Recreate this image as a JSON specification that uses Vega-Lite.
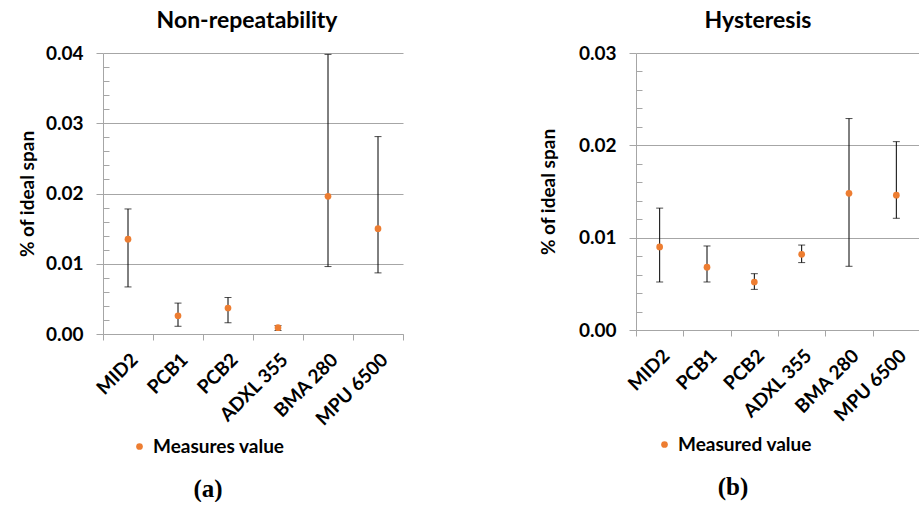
{
  "$schema": "https://vega.github.io/schema/vega-lite/v6.json",
  "padding": {"left": 18, "top": 10, "right": 0, "bottom": 0},
  "spacing": 135,
  "config": {
    "font": "Lato",
    "view": {"stroke": null},
    "axis": {
      "labelFont": "Lato", "labelFontWeight": "bold", "labelFontSize": 19, "labelColor": "#000",
      "titleFont": "Lato", "titleFontWeight": "bold", "titleFontSize": 19, "titleColor": "#000",
      "domainColor": "#A6A6A6", "tickColor": "#A6A6A6", "gridColor": "#A6A6A6"
    },
    "title": {"font": "Lato", "fontWeight": "bold", "fontSize": 23, "color": "#000"},
    "legend": {"labelFont": "Lato", "labelFontWeight": "bold", "labelFontSize": 19, "labelColor": "#000"}
  },
  "datasets": {
    "nonrep": [
      {"sensor": "MID2", "value": 0.0135, "lo": 0.0067, "hi": 0.0178, "series": "Measures value"},
      {"sensor": "PCB1", "value": 0.0026, "lo": 0.0011, "hi": 0.0044, "series": "Measures value"},
      {"sensor": "PCB2", "value": 0.0037, "lo": 0.0016, "hi": 0.0052, "series": "Measures value"},
      {"sensor": "ADXL 355", "value": 0.0009, "lo": 0.0005, "hi": 0.0012, "series": "Measures value"},
      {"sensor": "BMA 280", "value": 0.0196, "lo": 0.0096, "hi": 0.0398, "series": "Measures value"},
      {"sensor": "MPU 6500", "value": 0.0150, "lo": 0.0087, "hi": 0.0281, "series": "Measures value"}
    ],
    "hyst": [
      {"sensor": "MID2", "value": 0.0090, "lo": 0.0052, "hi": 0.0132, "series": "Measured value"},
      {"sensor": "PCB1", "value": 0.0068, "lo": 0.0052, "hi": 0.0091, "series": "Measured value"},
      {"sensor": "PCB2", "value": 0.0052, "lo": 0.0044, "hi": 0.0061, "series": "Measured value"},
      {"sensor": "ADXL 355", "value": 0.0082, "lo": 0.0073, "hi": 0.0092, "series": "Measured value"},
      {"sensor": "BMA 280", "value": 0.0148, "lo": 0.0069, "hi": 0.0229, "series": "Measured value"},
      {"sensor": "MPU 6500", "value": 0.0146, "lo": 0.0121, "hi": 0.0204, "series": "Measured value"}
    ]
  },
  "resolve": {"scale": {"color": "independent"}, "legend": {"color": "independent"}},
  "hconcat": [
    {
      "title": {"text": "(a)", "orient": "bottom", "anchor": "middle", "font": "Liberation Serif", "fontSize": 25, "fontWeight": "bold", "offset": 20, "dx": -3},
      "vconcat": [
        {
          "width": 300,
          "height": 281,
          "title": {"text": "Non-repeatability", "offset": 11, "dx": -6},
          "data": {"name": "nonrep"},
          "encoding": {
            "x": {"field": "sensor", "type": "nominal", "sort": null,
                  "scale": {"paddingInner": 0, "paddingOuter": 0},
                  "axis": {"title": null, "labelAngle": -45, "tickBand": "extent", "tickSize": 6, "labelPadding": 10, "grid": false}}
          },
          "layer": [
            {
              "mark": {"type": "rule", "color": "#000", "strokeWidth": 1},
              "encoding": {
                "y": {"field": "lo", "type": "quantitative",
                      "scale": {"domain": [0, 0.04], "nice": false, "zero": true},
                      "axis": {
                        "title": "% of ideal span", "titlePadding": 8, "tickCount": 100,
                        "values": [0, 0.002, 0.004, 0.006, 0.008, 0.01, 0.012, 0.014, 0.016, 0.018, 0.02, 0.022, 0.024, 0.026, 0.028, 0.03, 0.032, 0.034, 0.036, 0.038, 0.04],
                        "labelExpr": "abs(datum.value*100 - round(datum.value*100)) < 1e-6 ? format(datum.value, '.2f') : ''",
                        "labelOverlap": false,
                        "gridOpacity": {"condition": {"test": "abs(datum.value*100 - round(datum.value*100)) < 1e-6", "value": 1}, "value": 0},
                        "tickSize": {"condition": {"test": "abs(datum.value*100 - round(datum.value*100)) < 1e-6", "value": 7}, "value": -6},
                        "labelPadding": 13
                      }},
                "y2": {"field": "hi"}
              }
            },
            {
              "mark": {"type": "tick", "color": "#000", "size": 7, "thickness": 1},
              "encoding": {"y": {"field": "lo", "type": "quantitative"}}
            },
            {
              "mark": {"type": "tick", "color": "#000", "size": 7, "thickness": 1},
              "encoding": {"y": {"field": "hi", "type": "quantitative"}}
            },
            {
              "mark": {"type": "circle", "opacity": 1, "size": 45},
              "encoding": {
                "y": {"field": "value", "type": "quantitative"},
                "color": {"field": "series", "type": "nominal",
                          "scale": {"range": ["#ED7D31"]},
                          "legend": {"title": null, "orient": "none", "legendX": 27, "legendY": 384, "symbolType": "circle", "symbolSize": 45}}
              }
            }
          ]
        }
      ]
    },
    {
      "title": {"text": "(b)", "orient": "bottom", "anchor": "middle", "font": "Liberation Serif", "fontSize": 25, "fontWeight": "bold", "offset": 20, "dx": 3},
      "vconcat": [
        {
          "width": 284,
          "height": 277,
          "title": {"text": "Hysteresis", "offset": 11, "dx": -20},
          "data": {"name": "hyst"},
          "encoding": {
            "x": {"field": "sensor", "type": "nominal", "sort": null,
                  "scale": {"paddingInner": 0, "paddingOuter": 0},
                  "axis": {"title": null, "labelAngle": -45, "tickBand": "extent", "tickSize": 6, "labelPadding": 10, "grid": false}}
          },
          "layer": [
            {
              "mark": {"type": "rule", "color": "#000", "strokeWidth": 1},
              "encoding": {
                "y": {"field": "lo", "type": "quantitative",
                      "scale": {"domain": [0, 0.03], "nice": false, "zero": true},
                      "axis": {
                        "title": "% of ideal span", "titlePadding": 20, "tickCount": 100,
                        "values": [0, 0.002, 0.004, 0.006, 0.008, 0.01, 0.012, 0.014, 0.016, 0.018, 0.02, 0.022, 0.024, 0.026, 0.028, 0.03],
                        "labelExpr": "abs(datum.value*100 - round(datum.value*100)) < 1e-6 ? format(datum.value, '.2f') : ''",
                        "labelOverlap": false,
                        "gridOpacity": {"condition": {"test": "abs(datum.value*100 - round(datum.value*100)) < 1e-6", "value": 1}, "value": 0},
                        "tickSize": {"condition": {"test": "abs(datum.value*100 - round(datum.value*100)) < 1e-6", "value": 7}, "value": -6},
                        "labelPadding": 13
                      }},
                "y2": {"field": "hi"}
              }
            },
            {
              "mark": {"type": "tick", "color": "#000", "size": 7, "thickness": 1},
              "encoding": {"y": {"field": "lo", "type": "quantitative"}}
            },
            {
              "mark": {"type": "tick", "color": "#000", "size": 7, "thickness": 1},
              "encoding": {"y": {"field": "hi", "type": "quantitative"}}
            },
            {
              "mark": {"type": "circle", "opacity": 1, "size": 45},
              "encoding": {
                "y": {"field": "value", "type": "quantitative"},
                "color": {"field": "series", "type": "nominal",
                          "scale": {"range": ["#ED7D31"]},
                          "legend": {"title": null, "orient": "none", "legendX": 19, "legendY": 382, "symbolType": "circle", "symbolSize": 45}}
              }
            }
          ]
        }
      ]
    }
  ]
}
